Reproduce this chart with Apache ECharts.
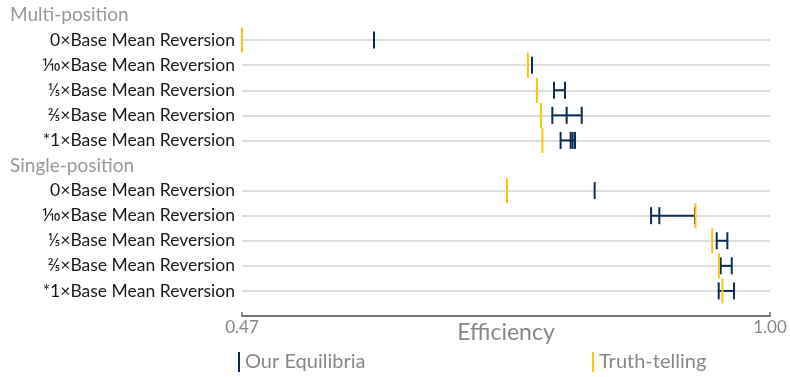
<!DOCTYPE html>
<html>
<head>
<meta charset="utf-8">
<script src="https://cdn.jsdelivr.net/npm/echarts@6/dist/echarts.min.js"></script>
<style>
  html, body { margin: 0; padding: 0; background: #fff; }
  #chart { width: 790px; height: 377px; }
</style>
</head>
<body>
<div id="chart"></div>
<script>
// Row labels, top to bottom; the final blank row sits on the efficiency axis.
const rowLabels = [
  'Multi-position',
  '0×Base Mean Reversion',
  '⅒×Base Mean Reversion',
  '⅕×Base Mean Reversion',
  '⅖×Base Mean Reversion',
  '*1×Base Mean Reversion',
  'Single-position',
  '0×Base Mean Reversion',
  '⅒×Base Mean Reversion',
  '⅕×Base Mean Reversion',
  '⅖×Base Mean Reversion',
  '*1×Base Mean Reversion',
  ''
];
const groupHeaders = ['Multi-position', 'Single-position'];

// Efficiency of truthful bidding per row (null for group headers).
const truthTelling = [null, 0.470, 0.757, 0.766, 0.770, 0.7715,
                      null, 0.736, 0.9252, 0.942, 0.9488, 0.9522, null];

// Efficiency of each equilibrium found per row.
const equilibria = [
  [],
  [0.6025],
  [0.7611],
  [0.7832, 0.7942],
  [0.7815, 0.7959, 0.8110],
  [0.7898, 0.7999, 0.8019, 0.8043],
  [],
  [0.8240],
  [0.8806, 0.8889, 0.9247],
  [0.9465, 0.9572],
  [0.9505, 0.9616],
  [0.9485, 0.9639],
  []
];

const xMin = 0.47, xMax = 1.00;
const NAVY = '#0c2d52';
const GOLD = '#ffc20e';
const FONT = 'Lato, "Open Sans", sans-serif';

const isHeader = i => groupHeaders.indexOf(rowLabels[i]) >= 0;

// Span of equilibria per row: [row, min, max]
const eqRange = [];
// One tick per equilibrium: [row, value]
const eqTicks = [];
equilibria.forEach((vals, i) => {
  if (!vals.length) return;
  eqRange.push([i, Math.min(...vals), Math.max(...vals)]);
  vals.forEach(v => eqTicks.push([i, v]));
});
const ttData = [];
truthTelling.forEach((v, i) => { if (v != null) ttData.push([i, v]); });

function renderRange(params, api) {
  const row = api.value(0);
  const lo = api.coord([api.value(1), row]);
  const hi = api.coord([api.value(2), row]);
  return { type: 'line', shape: { x1: lo[0], y1: lo[1], x2: hi[0], y2: hi[1] },
    style: { stroke: NAVY, lineWidth: 2 } };
}

function tickRenderer(color, half) {
  return function (params, api) {
    const p = api.coord([api.value(1), api.value(0)]);
    return { type: 'line', shape: { x1: p[0], y1: p[1] - half, x2: p[0], y2: p[1] + half },
      style: { stroke: color, lineWidth: 2 } };
  };
}

const chart = echarts.init(document.getElementById('chart'), null, { renderer: 'canvas' });
chart.setOption({
  animation: false,
  textStyle: { fontFamily: FONT },
  grid: { left: 242, right: 20, top: 15, bottom: 61, containLabel: false },
  legend: [
    { data: ['Our Equilibria'], left: 233, top: 347, itemWidth: 2, itemHeight: 20, icon: 'rect',
      textStyle: { color: '#888', fontSize: 20, fontFamily: FONT } },
    { data: ['Truth-telling'], left: 587, top: 347, itemWidth: 2, itemHeight: 20, icon: 'rect',
      textStyle: { color: '#888', fontSize: 20, fontFamily: FONT } }
  ],
  xAxis: {
    type: 'value', min: xMin, max: xMax,
    name: 'Efficiency', nameLocation: 'middle', nameGap: 17, nameMoveOverlap: false,
    nameTextStyle: { color: '#888', fontSize: 23, fontFamily: FONT, verticalAlign: 'middle' },
    axisLine: { show: true, lineStyle: { color: '#777', width: 2 } },
    axisTick: { show: true, inside: true, length: 4, customValues: [xMin, xMax],
      lineStyle: { color: '#777', width: 1.5 } },
    axisLabel: { show: true, customValues: [xMin, xMax], margin: 3, color: '#888', fontSize: 17,
      formatter: v => v.toFixed(2) },
    splitLine: { show: false }
  },
  yAxis: {
    type: 'category', data: rowLabels, inverse: true, boundaryGap: false,
    axisLine: { show: false }, axisTick: { show: false },
    axisLabel: {
      interval: 0, margin: 7, color: '#1a1a1a', fontSize: 17.5, fontFamily: FONT,
      formatter: (v) => groupHeaders.indexOf(v) >= 0 ? '{h|' + v + '}' : v,
      rich: { h: { width: 225, align: 'left', color: '#999', fontSize: 19, fontFamily: FONT } }
    },
    splitLine: {
      show: true,
      interval: (i) => !isHeader(i) && rowLabels[i] !== '',
      lineStyle: { color: '#dedede', width: 2 }
    }
  },
  series: [
    { name: 'Our Equilibria', type: 'custom', renderItem: renderRange,
      itemStyle: { color: NAVY }, encode: { x: [1, 2], y: 0 }, data: eqRange, z: 2 },
    { name: 'Our Equilibria', type: 'custom', renderItem: tickRenderer(NAVY, 8.5),
      itemStyle: { color: NAVY }, encode: { x: 1, y: 0 }, data: eqTicks, z: 2 },
    { name: 'Truth-telling', type: 'custom', renderItem: tickRenderer(GOLD, 12.5),
      itemStyle: { color: GOLD }, encode: { x: 1, y: 0 }, data: ttData, z: 3 }
  ]
});
</script>
</body>
</html>
